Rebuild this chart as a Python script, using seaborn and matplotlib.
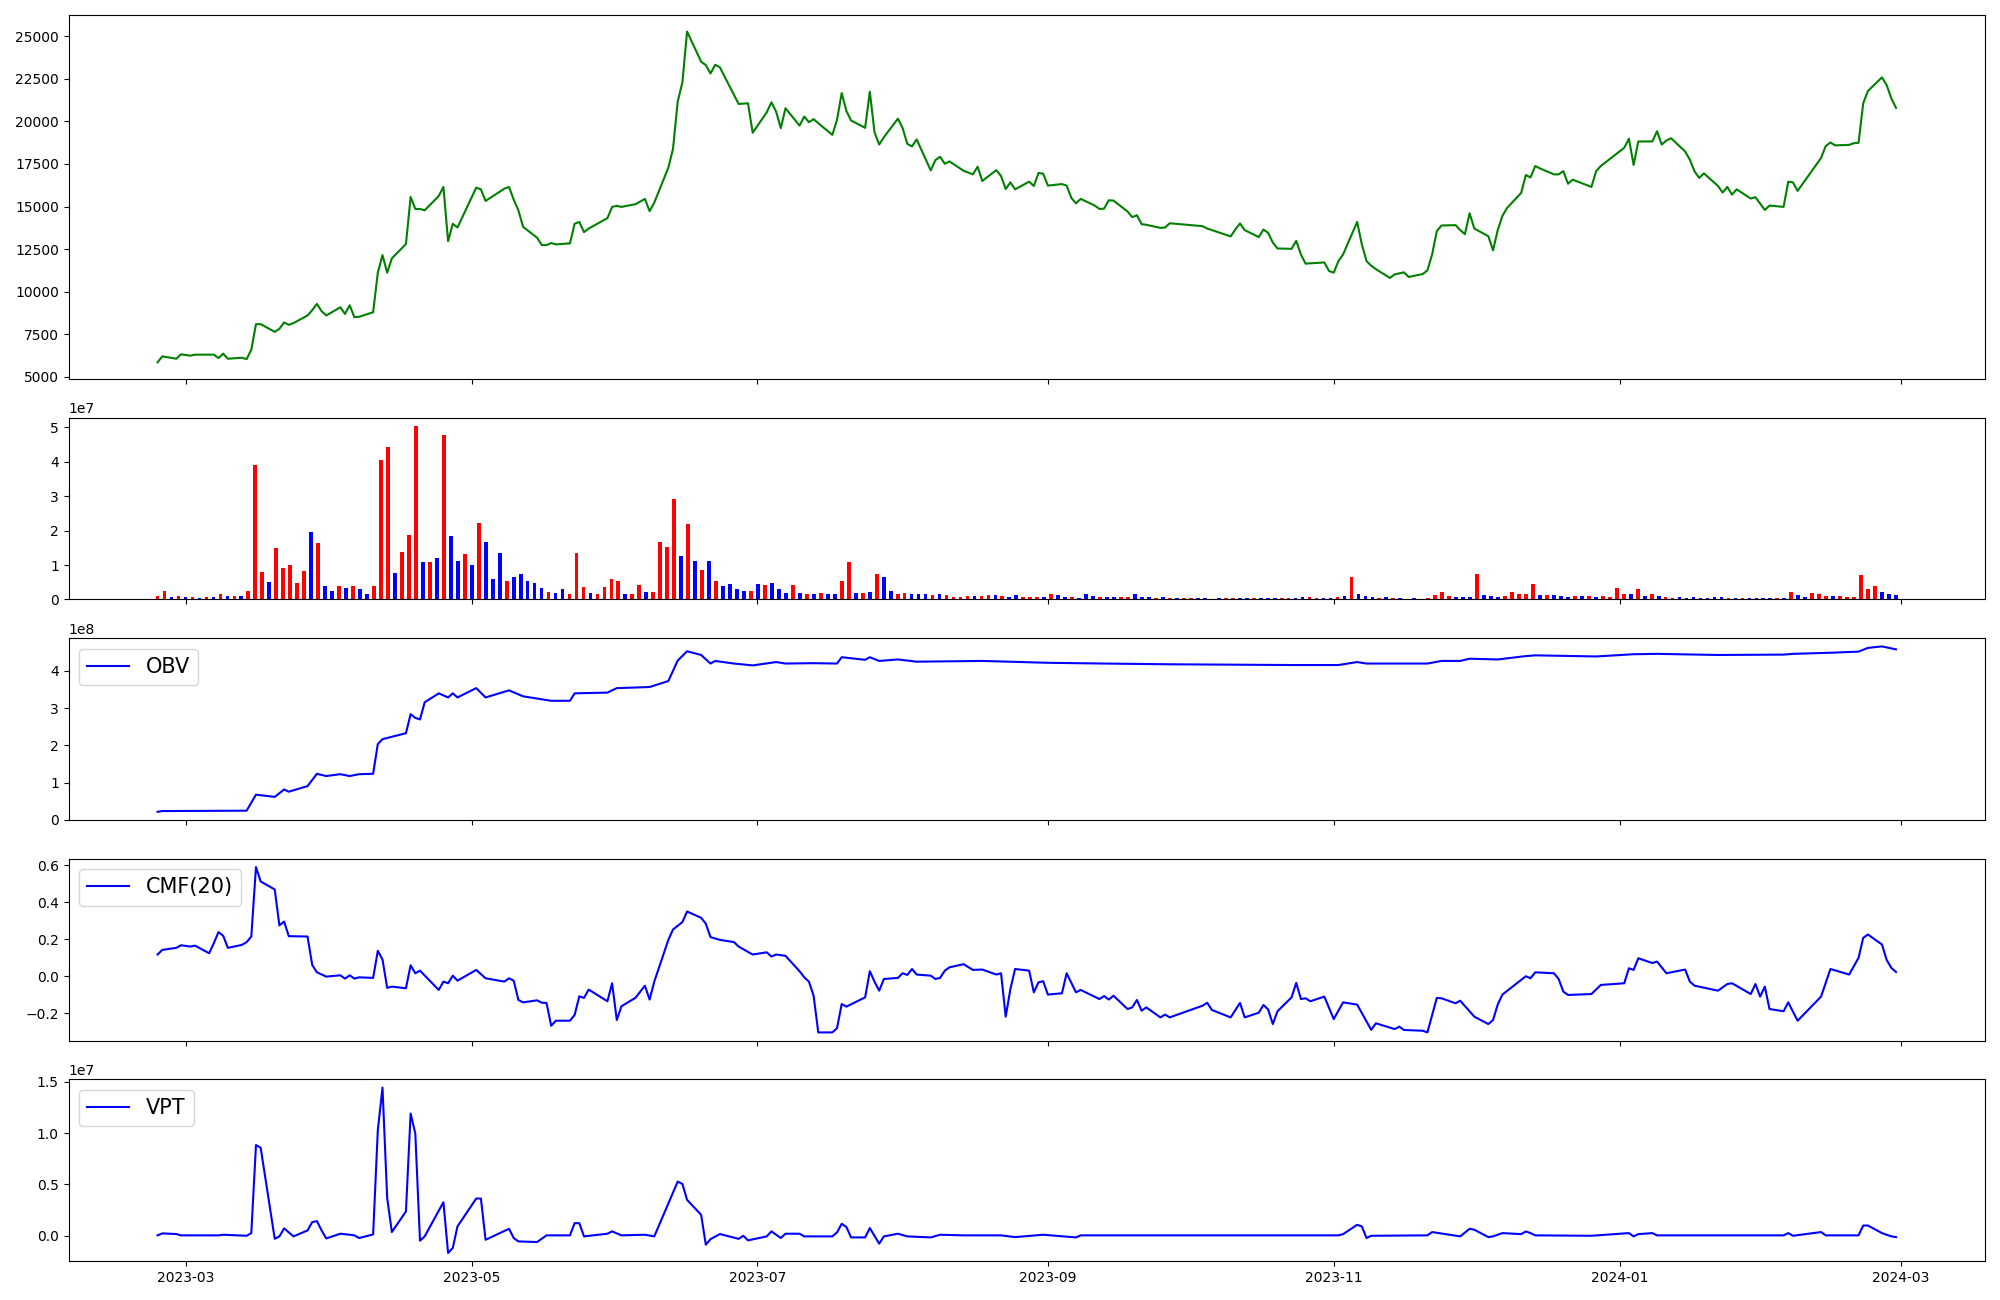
import numpy as np
import pandas as pd
import matplotlib
matplotlib.use("Agg")
import matplotlib.pyplot as plt
import seaborn as sns

# KRX trading calendar, Feb 2023 - Feb 2024
krx_holidays = ["2023-03-01", "2023-05-01", "2023-05-05", "2023-05-29", "2023-06-06",
                "2023-08-15", "2023-09-28", "2023-09-29", "2023-10-02", "2023-10-03",
                "2023-10-09", "2023-12-25", "2023-12-29", "2024-01-01", "2024-02-09",
                "2024-02-12"]
trade_days = pd.bdate_range("2023-02-23", "2024-02-29")
trade_days = trade_days[~trade_days.isin(pd.to_datetime(krx_holidays))]

# close price, one value per trading day (month per line)
close = [
    5860, 6210, 6070, 6330,
    6250, 6310, 6310, 6310, 6110, 6370, 6070, 6130, 6050, 6600, 8100, 8100, 7650, 7830, 8200, 8060, 8160, 8610, 8920, 9290, 8860, 8610,
    9090, 8700, 9210, 8510, 8530, 8800, 11120, 12150, 11120, 11960, 12800, 15560, 14860, 14860, 14780, 15620, 16150, 12970, 13990, 13770,
    16110, 16010, 15330, 16050, 16150, 15410, 14780, 13810, 13170, 12740, 12740, 12860, 12780, 12840, 13990, 14100, 13500, 13710, 14320, 14980,
    15040, 14980, 15140, 15450, 14730, 15230, 17280, 18390, 21160, 22290, 25270, 23500, 23300, 22810, 23320, 23170, 21550, 21020, 21040, 21060, 19330,
    20530, 21120, 20570, 19600, 20770, 19750, 20280, 19950, 20130, 19890, 19210, 20090, 21660, 20610, 20050, 19620, 21740, 19360, 18640, 19070, 20160,
    19600, 18680, 18530, 18940, 17120, 17730, 17920, 17510, 17650, 17100, 16890, 17340, 16500, 17140, 16790, 16030, 16420, 16010, 16460, 16210, 16970, 16930,
    16230, 16320, 16230, 15510, 15190, 15450, 15060, 14860, 14880, 15370, 15350, 14710, 14380, 14490, 13970, 13930, 13750, 13770, 14020,
    13850, 13710, 13620, 13250, 13650, 14010, 13620, 13210, 13650, 13460, 12890, 12540, 12520, 12990, 12190, 11650, 11670, 11720, 11220,
    11120, 11800, 12190, 14100, 12780, 11800, 11530, 11330, 10810, 11020, 11080, 11140, 10870, 11040, 11260, 12190, 13560, 13890, 13910, 13620, 13380, 14610,
    13710, 13260, 12430, 13620, 14450, 14920, 15800, 16850, 16710, 17380, 17240, 16890, 16890, 17080, 16340, 16580, 16150, 17080, 17380,
    18450, 18980, 17440, 18820, 18820, 19420, 18640, 18880, 19010, 18230, 17750, 17070, 16680, 16950, 16210, 15820, 16150, 15700, 16010, 15470, 15550, 15170,
    14800, 15060, 14980, 16460, 16420, 15920, 17850, 18550, 18760, 18590, 18620, 18720, 18740, 21060, 21780, 22580, 22130, 21350, 20790,
]

# volume in millions, per trading day
volume_m = [
    1.0, 2.6, 0.6, 0.9,
    0.6, 0.6, 0.3, 0.6, 0.6, 1.5, 0.9, 0.9, 0.9, 2.6, 39.0, 7.9, 5.2, 14.8, 9.0, 9.9, 4.7, 8.4, 19.5, 16.3, 3.8, 2.6,
    3.8, 3.2, 3.8, 2.9, 1.5, 3.8, 40.4, 44.2, 7.6, 13.7, 18.6, 50.3, 10.8, 10.8, 11.9, 47.7, 18.3, 11.3, 13.1, 9.9,
    22.1, 16.6, 5.8, 13.4, 5.5, 6.4, 7.3, 5.5, 4.9, 3.2, 2.3, 2.0, 2.9, 1.7, 13.4, 3.5, 2.0, 1.5, 3.5, 5.8,
    5.5, 1.7, 1.7, 4.1, 2.3, 2.3, 16.6, 15.1, 29.1, 12.5, 21.8, 11.3, 8.7, 11.3, 5.5, 3.8, 4.4, 2.9, 2.6, 2.6, 4.4,
    4.1, 4.9, 2.9, 2.0, 4.1, 2.0, 1.5, 1.5, 2.0, 1.5, 1.7, 5.5, 10.8, 2.0, 2.0, 2.3, 7.3, 6.4, 2.6, 1.5, 2.0,
    1.5, 1.5, 1.5, 1.2, 1.7, 1.2, 0.6, 0.6, 0.9, 0.9, 0.9, 1.2, 1.2, 0.9, 0.6, 1.2, 0.6, 0.6, 0.6, 0.6, 1.5, 1.2,
    0.6, 0.6, 0.3, 1.5, 0.9, 0.6, 0.6, 0.6, 0.6, 0.6, 1.5, 0.6, 0.6, 0.3, 0.6, 0.3, 0.3, 0.3, 0.3,
    0.3, 0.3, 0.05, 0.3, 0.3, 0.3, 0.3, 0.3, 0.3, 0.3, 0.3, 0.3, 0.3, 0.3, 0.3, 0.6, 0.6, 0.3, 0.3,
    0.3, 0.6, 0.9, 6.4, 1.7, 0.9, 0.6, 0.3, 0.6, 0.3, 0.3, 0.05, 0.3, 0.05, 0.3, 1.2, 2.3, 0.9, 0.6, 0.6, 0.6, 7.3,
    1.2, 0.9, 0.6, 0.9, 2.3, 1.5, 1.5, 4.4, 1.2, 1.2, 1.2, 0.9, 0.6, 0.9, 0.9, 0.9, 0.6, 0.9, 0.6,
    3.2, 1.5, 1.5, 2.9, 0.9, 1.5, 0.9, 0.6, 0.3, 0.6, 0.3, 0.6, 0.3, 0.3, 0.6, 0.6, 0.3, 0.3, 0.3, 0.3, 0.3, 0.3,
    0.3, 0.3, 0.3, 2.3, 1.2, 0.6, 2.0, 1.7, 0.9, 0.9, 0.9, 0.6, 0.6, 7.1, 2.9, 3.8, 2.3, 1.7, 1.2,
]

# r = up day (red), b = down day (blue)
vol_dir = ("rrbr"
           "brbrbrbrbrrrbrrrrrbrbb"
           "rbrbbrrrbrrrbrbrbbrb"
           "rbbbrbbbbbrbbrrrbrrr"
           "rbrrbrrrrbrbrbrbbbbrb"
           "rbbbrbrbrbbrrbrbrbbrr"
           "bbbrbrrrrbrrbrbbrrrbrb"
           "brbbbrbbrrbbbrbrbrr"
           "bbbbrrbbrbbbrrbbrrb"
           "brbrbbbrbrbbbrrrrrbbbr"
           "bbbrrrrrbrbbbrbrbrr"
           "rrbrbrbrrbbbbbbbrbrbbb"
           "brbrbbrrrbrrrrrrbbb")

# OBV (x1e8)
obv_dates = ["2023-02-23", "2023-02-24", "2023-03-14", "2023-03-16", "2023-03-20", "2023-03-22", "2023-03-23",
             "2023-03-27", "2023-03-29", "2023-03-31", "2023-04-03", "2023-04-05", "2023-04-07", "2023-04-10",
             "2023-04-11", "2023-04-12", "2023-04-17", "2023-04-18", "2023-04-19", "2023-04-20", "2023-04-21",
             "2023-04-24", "2023-04-26", "2023-04-27", "2023-04-28", "2023-05-02", "2023-05-04", "2023-05-09",
             "2023-05-12", "2023-05-18", "2023-05-22", "2023-05-23", "2023-05-30", "2023-06-01", "2023-06-08",
             "2023-06-12", "2023-06-14", "2023-06-16", "2023-06-19", "2023-06-21", "2023-06-22", "2023-06-26",
             "2023-06-30", "2023-07-05", "2023-07-07", "2023-07-13", "2023-07-18", "2023-07-19", "2023-07-24",
             "2023-07-25", "2023-07-27", "2023-07-31", "2023-08-04", "2023-08-18", "2023-09-01", "2023-09-13",
             "2023-09-27", "2023-10-23", "2023-11-02", "2023-11-06", "2023-11-08", "2023-11-21", "2023-11-24",
             "2023-11-28", "2023-11-30", "2023-12-06", "2023-12-12", "2023-12-14", "2023-12-27", "2024-01-04",
             "2024-01-09", "2024-01-22", "2024-02-05", "2024-02-07", "2024-02-15", "2024-02-21", "2024-02-23",
             "2024-02-26", "2024-02-29"]
obv_vals = [0.22, 0.24, 0.25, 0.68, 0.62, 0.82, 0.76,
            0.91, 1.24, 1.18, 1.23, 1.18, 1.23, 1.24,
            2.04, 2.17, 2.33, 2.84, 2.74, 2.70, 3.16,
            3.40, 3.29, 3.40, 3.29, 3.54, 3.29, 3.48,
            3.32, 3.20, 3.20, 3.40, 3.42, 3.54, 3.57,
            3.73, 4.28, 4.53, 4.43, 4.20, 4.27, 4.20,
            4.15, 4.24, 4.20, 4.21, 4.20, 4.37, 4.30,
            4.37, 4.27, 4.31, 4.25, 4.27, 4.22, 4.20,
            4.18, 4.16, 4.16, 4.24, 4.20, 4.20, 4.27,
            4.27, 4.33, 4.31, 4.40, 4.42, 4.39, 4.45,
            4.46, 4.43, 4.44, 4.46, 4.49, 4.52, 4.62,
            4.66, 4.58]

# CMF(20)
cmf_dates = ["2023-02-23", "2023-02-24", "2023-02-27", "2023-02-28",
             "2023-03-02", "2023-03-03", "2023-03-06", "2023-03-07", "2023-03-08", "2023-03-09", "2023-03-10",
             "2023-03-13", "2023-03-14", "2023-03-15", "2023-03-16", "2023-03-17", "2023-03-20", "2023-03-21",
             "2023-03-22", "2023-03-23", "2023-03-27", "2023-03-28", "2023-03-29", "2023-03-31",
             "2023-04-03", "2023-04-04", "2023-04-05", "2023-04-06", "2023-04-07", "2023-04-10", "2023-04-11",
             "2023-04-12", "2023-04-13", "2023-04-14", "2023-04-17", "2023-04-18", "2023-04-19", "2023-04-20",
             "2023-04-24", "2023-04-25", "2023-04-26", "2023-04-27", "2023-04-28",
             "2023-05-02", "2023-05-04", "2023-05-08", "2023-05-09", "2023-05-10", "2023-05-11", "2023-05-12",
             "2023-05-15", "2023-05-16", "2023-05-17", "2023-05-18", "2023-05-19", "2023-05-22", "2023-05-23",
             "2023-05-24", "2023-05-25", "2023-05-26", "2023-05-30", "2023-05-31",
             "2023-06-01", "2023-06-02", "2023-06-05", "2023-06-07", "2023-06-08", "2023-06-09", "2023-06-12",
             "2023-06-13", "2023-06-15", "2023-06-16", "2023-06-19", "2023-06-20", "2023-06-21", "2023-06-23",
             "2023-06-26", "2023-06-27", "2023-06-30",
             "2023-07-03", "2023-07-04", "2023-07-05", "2023-07-07", "2023-07-10", "2023-07-11", "2023-07-12",
             "2023-07-13", "2023-07-14", "2023-07-17", "2023-07-18", "2023-07-19", "2023-07-20", "2023-07-24",
             "2023-07-25", "2023-07-26", "2023-07-27", "2023-07-28", "2023-07-31",
             "2023-08-01", "2023-08-02", "2023-08-03", "2023-08-04", "2023-08-07", "2023-08-08", "2023-08-09",
             "2023-08-10", "2023-08-11", "2023-08-14", "2023-08-16", "2023-08-18", "2023-08-21", "2023-08-22",
             "2023-08-23", "2023-08-24", "2023-08-25", "2023-08-28", "2023-08-29", "2023-08-30", "2023-08-31",
             "2023-09-01", "2023-09-04", "2023-09-05", "2023-09-07", "2023-09-08", "2023-09-12", "2023-09-13",
             "2023-09-14", "2023-09-15", "2023-09-18", "2023-09-19", "2023-09-20", "2023-09-21", "2023-09-22",
             "2023-09-25", "2023-09-26", "2023-09-27",
             "2023-10-04", "2023-10-05", "2023-10-06", "2023-10-10", "2023-10-12", "2023-10-13", "2023-10-16",
             "2023-10-17", "2023-10-18", "2023-10-19", "2023-10-20", "2023-10-23", "2023-10-24", "2023-10-25",
             "2023-10-26", "2023-10-27", "2023-10-30",
             "2023-11-01", "2023-11-03", "2023-11-06", "2023-11-09", "2023-11-10", "2023-11-14", "2023-11-15",
             "2023-11-16", "2023-11-20", "2023-11-21", "2023-11-23", "2023-11-24", "2023-11-27", "2023-11-28",
             "2023-12-01", "2023-12-04", "2023-12-05", "2023-12-06", "2023-12-07", "2023-12-12", "2023-12-13",
             "2023-12-14", "2023-12-18", "2023-12-19", "2023-12-20", "2023-12-21", "2023-12-26", "2023-12-28",
             "2024-01-02", "2024-01-03", "2024-01-04", "2024-01-05", "2024-01-08", "2024-01-09", "2024-01-11",
             "2024-01-15", "2024-01-16", "2024-01-17", "2024-01-22", "2024-01-24", "2024-01-25", "2024-01-29",
             "2024-01-30", "2024-01-31",
             "2024-02-01", "2024-02-02", "2024-02-05", "2024-02-06", "2024-02-08", "2024-02-13", "2024-02-15",
             "2024-02-19", "2024-02-21", "2024-02-22", "2024-02-23", "2024-02-26", "2024-02-27", "2024-02-28",
             "2024-02-29"]
cmf_vals = [0.118, 0.143, 0.154, 0.168,
            0.161, 0.166, 0.125, 0.179, 0.239, 0.219, 0.154,
            0.170, 0.185, 0.215, 0.590, 0.512, 0.469, 0.275,
            0.296, 0.217, 0.215, 0.062, 0.022, -0.001,
            0.006, -0.012, 0.006, -0.012, -0.005, -0.008, 0.138,
            0.091, -0.062, -0.055, -0.064, 0.060, 0.017, 0.031,
            -0.073, -0.028, -0.037, 0.004, -0.023,
            0.035, -0.010, -0.028, -0.010, -0.023, -0.127, -0.140,
            -0.129, -0.142, -0.143, -0.266, -0.239, -0.239, -0.208,
            -0.107, -0.116, -0.071, -0.134, -0.037,
            -0.235, -0.161, -0.115, -0.050, -0.125, -0.028, 0.197,
            0.253, 0.293, 0.350, 0.316, 0.284, 0.212, 0.197,
            0.185, 0.161, 0.118,
            0.130, 0.107, 0.118, 0.111, 0.028, -0.005, -0.028,
            -0.104, -0.302, -0.302, -0.279, -0.149, -0.163, -0.113,
            0.028, -0.028, -0.077, -0.014, -0.008,
            0.017, 0.008, 0.040, 0.010, 0.004, -0.014, -0.008,
            0.031, 0.049, 0.066, 0.035, 0.037, 0.010, 0.017,
            -0.217, -0.068, 0.040, 0.031, -0.086, -0.032, -0.026,
            -0.098, -0.091, 0.017, -0.086, -0.073, -0.122, -0.106,
            -0.125, -0.104, -0.176, -0.167, -0.127, -0.185, -0.167,
            -0.221, -0.206, -0.221,
            -0.158, -0.142, -0.181, -0.221, -0.143, -0.221, -0.196,
            -0.154, -0.178, -0.257, -0.188, -0.113, -0.035, -0.122,
            -0.118, -0.134, -0.109,
            -0.230, -0.140, -0.152, -0.288, -0.253, -0.284, -0.271,
            -0.289, -0.293, -0.302, -0.116, -0.118, -0.145, -0.131,
            -0.217, -0.257, -0.235, -0.152, -0.098, 0.001, -0.010,
            0.022, 0.017, -0.014, -0.082, -0.100, -0.095, -0.046,
            -0.037, 0.044, 0.035, 0.098, 0.072, 0.080, 0.017,
            0.037, -0.028, -0.050, -0.077, -0.041, -0.037, -0.095,
            -0.041, -0.109,
            -0.055, -0.176, -0.188, -0.140, -0.239, -0.109, 0.040,
            0.010, 0.100, 0.208, 0.226, 0.172, 0.089, 0.046,
            0.024]

# VPT (x1e7)
vpt_dates = ["2023-02-23", "2023-02-24", "2023-02-27", "2023-02-28",
             "2023-03-08", "2023-03-09", "2023-03-14", "2023-03-15", "2023-03-16", "2023-03-17", "2023-03-20",
             "2023-03-21", "2023-03-22", "2023-03-24", "2023-03-27", "2023-03-28", "2023-03-29", "2023-03-30",
             "2023-03-31",
             "2023-04-03", "2023-04-05", "2023-04-06", "2023-04-07", "2023-04-10", "2023-04-11", "2023-04-12",
             "2023-04-13", "2023-04-14", "2023-04-17", "2023-04-18", "2023-04-19", "2023-04-20", "2023-04-21",
             "2023-04-25", "2023-04-26", "2023-04-27", "2023-04-28",
             "2023-05-02", "2023-05-03", "2023-05-04", "2023-05-09", "2023-05-10", "2023-05-11", "2023-05-15",
             "2023-05-17", "2023-05-22", "2023-05-23", "2023-05-24", "2023-05-25", "2023-05-30", "2023-05-31",
             "2023-06-02", "2023-06-07", "2023-06-09", "2023-06-14", "2023-06-15", "2023-06-16", "2023-06-19",
             "2023-06-20", "2023-06-21", "2023-06-23", "2023-06-27", "2023-06-28", "2023-06-29",
             "2023-07-03", "2023-07-04", "2023-07-06", "2023-07-07", "2023-07-10", "2023-07-11", "2023-07-17",
             "2023-07-18", "2023-07-19", "2023-07-20", "2023-07-21", "2023-07-24", "2023-07-25", "2023-07-27",
             "2023-07-28", "2023-07-31",
             "2023-08-02", "2023-08-07", "2023-08-09", "2023-08-14", "2023-08-22", "2023-08-25", "2023-08-31",
             "2023-09-07", "2023-09-08",
             "2023-11-02", "2023-11-03", "2023-11-06", "2023-11-07", "2023-11-08", "2023-11-09", "2023-11-21",
             "2023-11-22", "2023-11-28", "2023-11-30",
             "2023-12-01", "2023-12-04", "2023-12-05", "2023-12-07", "2023-12-11", "2023-12-12", "2023-12-13",
             "2023-12-14", "2023-12-26",
             "2024-01-03", "2024-01-04", "2024-01-05", "2024-01-08", "2024-01-09",
             "2024-02-05", "2024-02-06", "2024-02-07", "2024-02-13", "2024-02-14", "2024-02-21", "2024-02-22",
             "2024-02-23", "2024-02-26", "2024-02-28", "2024-02-29"]
vpt_vals = [0.004, 0.023, 0.017, 0.004,
            0.004, 0.010, 0.0, 0.026, 0.884, 0.858, -0.029,
            -0.006, 0.072, -0.006, 0.052, 0.133, 0.143, 0.052,
            -0.026,
            0.020, 0.010, 0.004, -0.022, 0.013, 1.029, 1.444,
            0.366, 0.036, 0.237, 1.191, 0.997, -0.048, -0.006,
            0.327, -0.168, -0.119, 0.091,
            0.363, 0.363, -0.039, 0.068, -0.022, -0.055, -0.061,
            0.004, 0.004, 0.123, 0.123, -0.006, 0.020, 0.043,
            0.004, 0.010, -0.006, 0.528, 0.505, 0.350, 0.204,
            -0.087, -0.033, 0.017, -0.030, 0.0, -0.045,
            -0.006, 0.043, -0.022, 0.020, 0.020, -0.006, -0.006,
            0.033, 0.117, 0.085, -0.016, -0.016, 0.075, -0.077,
            -0.006, 0.020,
            -0.006, -0.016, 0.010, 0.004, 0.004, -0.013, 0.010,
            -0.016, 0.004,
            0.004, 0.016, 0.107, 0.091, -0.022, 0.0, 0.004,
            0.036, -0.006, 0.068,
            0.059, -0.013, -0.006, 0.026, 0.016, 0.042, 0.026,
            0.004, 0.0,
            0.026, -0.006, 0.016, 0.026, 0.004,
            0.004, 0.026, 0.0, 0.036, 0.004, 0.004, 0.100,
            0.100, 0.026, -0.006, -0.013]

# ---- plotting ----
n = min(len(trade_days), len(close), len(volume_m), len(vol_dir))
days = trade_days[:n]
bar_colors = ["red" if c == "r" else "blue" for c in vol_dir[:n]]
# volume bars sit on an even grid over the same period (no weekend gaps)
bar_pos = pd.date_range(days[0], days[-1], periods=n)

fig, axes = plt.subplots(5, 1, figsize=(20, 13), sharex=True,
                         gridspec_kw={"height_ratios": [2, 1, 1, 1, 1]})

sns.lineplot(x=days, y=np.array(close[:n]), color="green", ax=axes[0])

axes[1].bar(bar_pos, np.array(volume_m[:n]) * 1e6, color=bar_colors, width=0.8)

k = min(len(obv_dates), len(obv_vals))
sns.lineplot(x=pd.to_datetime(obv_dates[:k]), y=np.array(obv_vals[:k]) * 1e8,
             color="blue", label="OBV", ax=axes[2])
axes[2].legend(loc="upper left", fontsize=15)

k = min(len(cmf_dates), len(cmf_vals))
sns.lineplot(x=pd.to_datetime(cmf_dates[:k]), y=np.array(cmf_vals[:k]),
             color="blue", label="CMF(20)", ax=axes[3])
axes[3].legend(loc="upper left", fontsize=15)

k = min(len(vpt_dates), len(vpt_vals))
sns.lineplot(x=pd.to_datetime(vpt_dates[:k]), y=np.array(vpt_vals[:k]) * 1e7,
             color="blue", label="VPT", ax=axes[4])
axes[4].legend(loc="upper left", fontsize=15)

for ax in axes:
    ax.set_xlabel("")
    ax.set_ylabel("")

plt.tight_layout()
plt.savefig("out.png", dpi=100)
